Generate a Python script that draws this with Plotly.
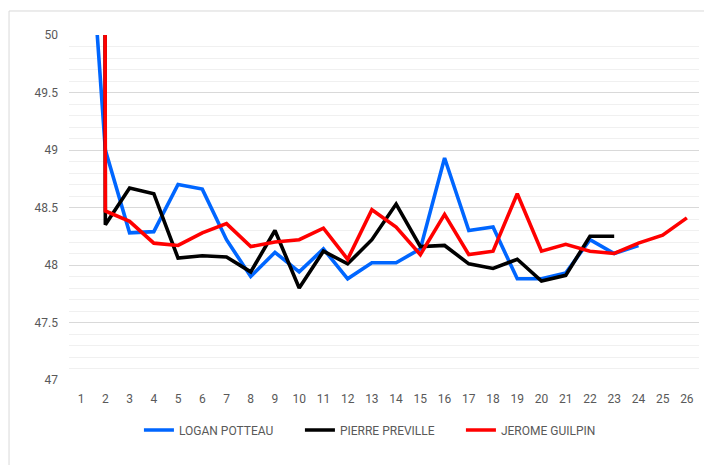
import plotly.graph_objects as go

# categories (laps)
tours = [str(i) for i in range(1, 27)]

# point 1 of black & red is far above the axis (clipped, draws the vertical spike)
logan = [52.0, 49.0, 48.28, 48.29, 48.70, 48.66, 48.22, 47.90, 48.11, 47.94,
         48.14, 47.88, 48.02, 48.02, 48.14, 48.93, 48.30, 48.33, 47.88, 47.88,
         47.93, 48.22, 48.10, 48.17, None, None]
pierre = [200.0, 48.35, 48.67, 48.62, 48.06, 48.08, 48.07, 47.94, 48.30, 47.80,
          48.12, 48.01, 48.22, 48.53, 48.16, 48.17, 48.01, 47.97, 48.05, 47.86,
          47.91, 48.25, 48.25, None, None, None]
jerome = [200.0, 48.47, 48.38, 48.19, 48.17, 48.28, 48.36, 48.16, 48.20, 48.22,
          48.32, 48.05, 48.48, 48.33, 48.09, 48.44, 48.09, 48.12, 48.62, 48.12,
          48.18, 48.12, 48.10, 48.19, 48.26, 48.41]

SERIES = [
    ('LOGAN POTTEAU', logan, '#0066FF'),
    ('PIERRE PREVILLE', pierre, '#000000'),
    ('JEROME GUILPIN', jerome, '#FF0000'),
]

TXT = '#595959'
FONT = 'Roboto'

fig = go.Figure()
for name, vals, col in SERIES:
    fig.add_trace(go.Scatter(x=tours, y=vals, name=name, mode='lines',
                             line=dict(color=col, width=3.6),
                             connectgaps=False))

# page has an 8px body margin, so margins are shifted up/left by 8
fig.update_layout(
    width=712, height=465,
    paper_bgcolor='white', plot_bgcolor='white',
    margin=dict(l=61, r=21, t=27, b=93),
    font=dict(family=FONT, size=12, color=TXT),
    showlegend=True,
    legend=dict(orientation='h', x=0.111, xanchor='left', y=-0.145,
                yanchor='middle', itemwidth=30, entrywidth=116,
                font=dict(family=FONT, size=12, color=TXT),
                bgcolor='rgba(0,0,0,0)'),
    shapes=[dict(type='rect', xref='paper', yref='paper',
                 x0=-0.0952, x1=1.05, y0=-0.3, y1=1.0696,
                 line=dict(color='#d9d9d9', width=1), layer='below')],
)
fig.update_xaxes(type='category', range=[-0.5, 25.5], showgrid=False,
                 zeroline=False, showline=False, ticks='',
                 ticklabelstandoff=10,
                 tickfont=dict(size=12, color=TXT))
fig.update_yaxes(range=[47, 50], dtick=0.5, tick0=47, showgrid=True,
                 gridcolor='#d9d9d9', gridwidth=1, zeroline=False,
                 showline=False, ticks='', ticklabelstandoff=10,
                 minor=dict(dtick=0.1, tick0=47, showgrid=True,
                            gridcolor='#f0f0f0', gridwidth=1),
                 tickfont=dict(size=12, color=TXT))

fig.write_html("out.html")
